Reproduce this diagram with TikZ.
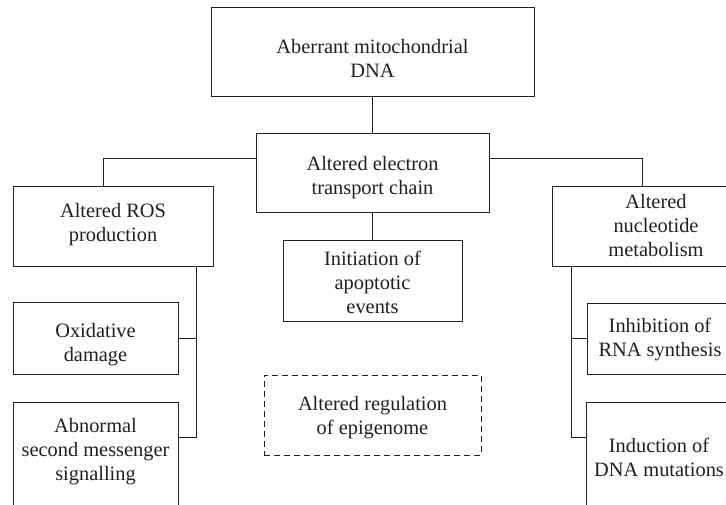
\documentclass[tikz,border=0pt]{standalone}
\usepackage{fontspec}
\setmainfont{Liberation Serif}
\usepackage{tikz}
\definecolor{ink}{HTML}{231F20}
\tikzset{
    box/.style={
        draw=ink,
        line width=1pt,
        inner sep=0pt,
        anchor=base,
        align=center,
        text=ink,
        font=\fontsize{20.4}{24}\selectfont
    },
    dashedbox/.style={
        box,
        dash pattern=on 6pt off 4pt
    },
    link/.style={
        draw=ink,
        line width=1pt
    }
}
\begin{document}
\begin{tikzpicture}[x=1pt,y=-1pt]

    % Frame
    \useasboundingbox (0,0) rectangle (726,504);
    \clip (0,0) rectangle (726,504);

    % Centre column
    \node[box,minimum width=323pt,text height=70pt,text depth=19pt]
        (mtdna) at (372.5,77)
        {Aberrant mitochondrial\\DNA};

    \node[box,minimum width=233pt,text height=61pt,text depth=18pt]
        (etc) at (372.5,194)
        {Altered electron\\transport chain};

    \node[box,minimum width=179pt,text height=73pt,text depth=8pt]
        (apop) at (372.5,313)
        {Initiation of\\apoptotic\\events};

    \node[dashedbox,minimum width=217pt,text height=59pt,text depth=21pt]
        (epi) at (372.5,434)
        {Altered regulation\\of epigenome};

    % Left branch
    \node[box,minimum width=200pt,text height=55pt,text depth=25pt]
        (ros) at (113,241)
        {Altered ROS\\production};

    \node[box,minimum width=165pt,text height=59pt,text depth=13pt]
        (oxid) at (95.5,361)
        {Oxidative\\damage};

    \node[box,minimum width=165pt,text height=78pt,text depth=52pt]
        (signal) at (95.5,480)
        {Abnormal\\second messenger\\signalling};

    % Right branch
    \node[box,minimum width=208pt,text height=70pt,text depth=10pt]
        (nucl) at (656,256)
        {Altered\\nucleotide\\metabolism};

    \node[box,minimum width=146pt,text height=53pt,text depth=18pt]
        (rna) at (660,356)
        {Inhibition of\\RNA synthesis};

    \node[box,minimum width=146pt,text height=74pt,text depth=56pt]
        (mut) at (659,476)
        {Induction of\\DNA mutations};

    % Junctions
    \coordinate (lsplit) at (103,158);
    \coordinate (rsplit) at (642,158);
    \coordinate (lbus) at (196,437);
    \coordinate (rbus) at (571,437);

    % Links
    \draw[link] (mtdna) -- (etc);
    \draw[link] (etc) -- (apop);

    \draw[link] (etc.west |- lsplit) -| (ros.north -| lsplit);
    \draw[link] (etc.east |- rsplit) -| (nucl.north -| rsplit);

    \draw[link] (ros.south -| lbus) -- (lbus) -- (signal.east |- lbus);
    \draw[link] (oxid.east) -- (oxid.east -| lbus);

    \draw[link] (nucl.south -| rbus) -- (rbus) -- (mut.west |- rbus);
    \draw[link] (rna.west) -- (rna.west -| rbus);

\end{tikzpicture}
\end{document}
